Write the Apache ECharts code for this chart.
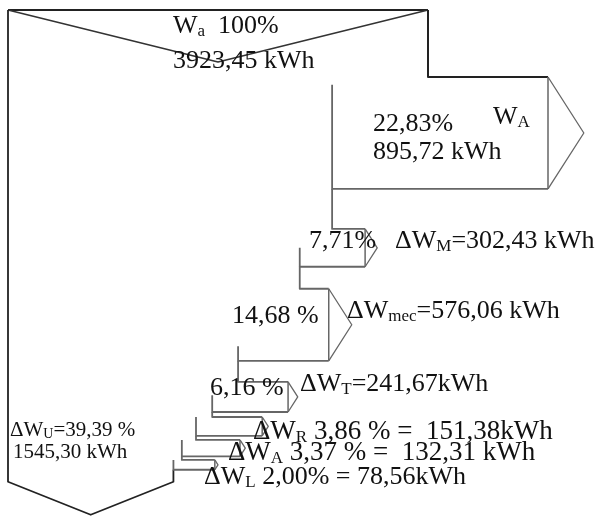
<!DOCTYPE html>
<html>
<head>
<meta charset="utf-8">
<script src="https://cdn.jsdelivr.net/npm/echarts@6/dist/echarts.min.js"></script>
<style>html,body{margin:0;padding:0;background:#fff}#c{width:602px;height:517px}</style>
</head>
<body>
<div id="c"></div>
<script>
// ---- data ----
const categories = ['W_A', 'ΔW_M', 'ΔW_mec', 'ΔW_T', 'ΔW_R', 'ΔW_A', 'ΔW_L'];
const branchKWh = [895.72, 302.43, 576.06, 241.67, 151.38, 132.31, 78.56];
const branchPct = [22.83, 7.71, 14.68, 6.16, 3.86, 3.37, 2.00];
const inputKWh = 3923.45;
const inputPct = 100;
const residualKWh = 1545.30;
const residualPct = 39.39;

// ---- layout / style (not data) ----
const LAYOUT = {
  leftPx: 8, flowWidthPx: 420, topPx: 10, pxPerKWhY: 0.125,
  inNotchPx: 52,
  gapPx: [67, 40, 22, 21, 5, 4, 3.5],
  reachPx: [120, 33, 29, 50, 50, 44, 33],
  splitInset: [0.07, 0.5, 0.8, 0.45, 0, 0, 0],
  tipRatio: 0.32,
  outGapPx: 12, outTipPx: 33
};
const OUTER = '#222', INNER = '#666';
const W = 602, H = 517;
const kx = LAYOUT.flowWidthPx / inputKWh;
const ky = LAYOUT.pxPerKWhY;

function computeLayout(api) {
  const y0 = api.coord([0, 0])[1];
  const tops = [], ths = [];
  let prev = y0;
  for (let j = 0; j < branchKWh.length; j++) {
    const th = api.size([0, branchKWh[j]])[1];
    const top = prev + LAYOUT.gapPx[j];
    tops.push(top); ths.push(th);
    prev = top + th;
  }
  return { y0, tops, ths, last: prev };
}

function ln(points, color, w) {
  return { type: 'polyline', shape: { points }, style: { stroke: color, lineWidth: w, fill: null, lineJoin: 'round' } };
}

function renderBranch(params, api) {
  const i = params.dataIndex;
  const cumBefore = api.value(0), v = api.value(1);
  const L = computeLayout(api);
  const top = L.tops[i], th = L.ths[i], bot = top + th;
  const prevBottom = i === 0 ? L.y0 : L.tops[i - 1] + L.ths[i - 1];
  const xPrev = api.coord([inputKWh - cumBefore, 0])[0];
  const xNew = api.coord([inputKWh - cumBefore - v, 0])[0];
  const xEnd = xPrev + LAYOUT.reachPx[i];
  const tip = xEnd + th * LAYOUT.tipRatio;
  const mid = top + th / 2;
  const edge = i === 0 ? OUTER : INNER;
  return {
    type: 'group',
    children: [
      ln([[xPrev, prevBottom], [xPrev, top], [xEnd, top]], edge, i === 0 ? 2 : 1.8),
      ln([[xEnd, top], [xEnd, bot]], INNER, 1.5),
      ln([[xEnd, top], [tip, mid], [xEnd, bot]], INNER, 1.3),
      ln([[xEnd, bot], [xNew, bot], [xNew, top + th * LAYOUT.splitInset[i]]], INNER, 1.8)
    ]
  };
}

function renderTrunk(params, api) {
  const L = computeLayout(api);
  const x0 = api.coord([0, 0])[0], y0 = L.y0;
  const xIn = api.coord([api.value(0), 0])[0];
  const xRes = api.coord([api.value(1), 0])[0];
  const yOut = L.last + LAYOUT.outGapPx;
  return {
    type: 'group',
    children: [
      ln([[x0, y0], [xIn, y0]], OUTER, 2),
      ln([[x0, y0], [(x0 + xIn) / 2, y0 + LAYOUT.inNotchPx], [xIn, y0]], '#333', 1.6),
      ln([[x0, y0], [x0, yOut], [(x0 + xRes) / 2, yOut + LAYOUT.outTipPx], [xRes, yOut], [xRes, L.last]], OUTER, 1.8)
    ]
  };
}

let cum = 0;
const branchData = branchKWh.map((v, i) => { const d = [cum, v, i]; cum += v; return d; });

const fmt = v => v.toFixed(2).replace('.', ',');
const FONT = 'Liberation Serif';
const rich = {
  m: { fontSize: 26, fontFamily: FONT, fill: '#111', lineHeight: 28 },
  b: { fontSize: 27, fontFamily: FONT, fill: '#111', lineHeight: 28 },
  s: { fontSize: 17, fontFamily: FONT, fill: '#111', lineHeight: 10, verticalAlign: 'bottom' },
  n: { fontSize: 21, fontFamily: FONT, fill: '#111', lineHeight: 22 },
  ns: { fontSize: 14, fontFamily: FONT, fill: '#111', lineHeight: 8, verticalAlign: 'bottom' }
};
const labels = [
  [173, 26, `{m|W}{s|a}{m|  ${inputPct}%}`],
  [173, 61, `{m|${fmt(inputKWh)} kWh}`],
  [373, 124, `{m|${fmt(branchPct[0])}%}`],
  [493, 117, `{m|W}{s|A}`],
  [373, 152, `{m|${fmt(branchKWh[0])} kWh}`],
  [309, 241, `{m|${fmt(branchPct[1])}%}`],
  [395, 241, `{m|ΔW}{s|M}{m|=${fmt(branchKWh[1])} kWh}`],
  [232, 316, `{m|${fmt(branchPct[2])} %}`],
  [347, 311, `{m|ΔW}{s|mec}{m|=${fmt(branchKWh[2])} kWh}`],
  [210, 388, `{m|${fmt(branchPct[3])} %}`],
  [300, 384, `{m|ΔW}{s|T}{m|=${fmt(branchKWh[3])}kWh}`],
  [253, 432, `{b|ΔW}{s|R}{b| ${fmt(branchPct[4])} % =  ${fmt(branchKWh[4])}kWh}`],
  [228, 453, `{b|ΔW}{s|A}{b| ${fmt(branchPct[5])} % =  ${fmt(branchKWh[5])} kWh}`],
  [204, 477, `{m|ΔW}{s|L}{m| ${fmt(branchPct[6])}% = ${fmt(branchKWh[6])}kWh}`],
  [10, 430, `{n|ΔW}{ns|U}{n|=${fmt(residualPct)} %}`],
  [13, 452, `{n|${fmt(residualKWh)} kWh}`]
];

const chart = echarts.init(document.getElementById('c'), null, { renderer: 'canvas' });
chart.setOption({
  animation: false,
  backgroundColor: '#fff',
  grid: { left: 0, right: 0, top: 0, bottom: 0 },
  xAxis: { type: 'value', show: false, min: -LAYOUT.leftPx / kx, max: (W - LAYOUT.leftPx) / kx, splitLine: { show: false } },
  yAxis: { type: 'value', show: false, inverse: true, min: -LAYOUT.topPx / ky, max: (H - LAYOUT.topPx) / ky, splitLine: { show: false } },
  series: [
    { type: 'custom', name: 'input', silent: true, data: [[inputKWh, residualKWh]], renderItem: renderTrunk },
    { type: 'custom', name: 'branches', silent: true, data: branchData, renderItem: renderBranch }
  ],
  graphic: labels.map(([x, y, t]) => ({
    type: 'text', x, y, silent: true, z: 10,
    style: { text: t, rich, align: 'left', verticalAlign: 'middle', fill: '#111' }
  }))
});
</script>
</body>
</html>
